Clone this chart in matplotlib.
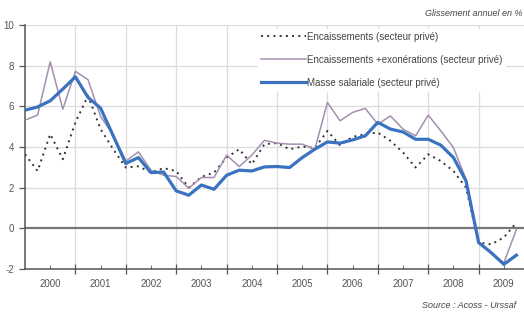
import numpy as np
import matplotlib
matplotlib.use("Agg")
import matplotlib.pyplot as plt

plt.rcParams['font.family'] = ['Liberation Sans', 'DejaVu Sans']

# Quarterly data, 2000Q1 .. 2009Q4 (year-on-year growth, %)
quarters = 2000 + np.arange(40) * 0.25
encaissements = [3.64, 2.82, 4.63, 3.40, 5.21, 6.52, 4.88, 3.89, 2.99, 3.05,
                 2.75, 2.96, 2.82, 2.00, 2.53, 2.74, 3.48, 3.89, 3.15, 4.14,
                 4.19, 3.89, 4.02, 3.95, 4.79, 4.09, 4.50, 4.63, 4.71, 4.30,
                 3.73, 2.99, 3.64, 3.31, 2.82, 2.00, -0.70, -0.79, -0.45, 0.28]
encaiss_exo = [5.32, 5.57, 8.19, 5.86, 7.72, 7.31, 5.50, 4.60, 3.31, 3.76,
               2.85, 2.61, 2.55, 1.97, 2.50, 2.50, 3.60, 3.04, 3.60, 4.33,
               4.19, 4.14, 4.14, 3.89, 6.19, 5.29, 5.70, 5.90, 5.12, 5.53,
               4.88, 4.55, 5.57, 4.79, 3.97, 2.41, -0.70, -1.20, -1.70, -0.05]
masse_salariale = [5.81, 5.97, 6.27, 6.85, 7.45, 6.44, 5.91, 4.55, 3.19, 3.48,
                   2.74, 2.77, 1.84, 1.63, 2.13, 1.92, 2.61, 2.86, 2.82, 3.02,
                   3.04, 2.99, 3.48, 3.89, 4.25, 4.19, 4.35, 4.55, 5.21, 4.88,
                   4.74, 4.38, 4.38, 4.09, 3.48, 2.33, -0.70, -1.20, -1.77, -1.32]
year_labels = ['2000', '2001', '2002', '2003', '2004', '2005', '2006', '2007', '2008', '2009']
y_ticks = [-2, 0, 2, 4, 6, 8, 10]

fig = plt.figure(figsize=(5.24, 3.12), dpi=100)
ax = fig.add_axes([25/524, 1-269/312, 1-25/524, (269-25)/312])

txt = '#555555'
ax.plot(quarters, encaissements, color='#333333', lw=1.4, ls=(0, (1, 2.2)),
        label='Encaissements (secteur privé)', zorder=3)
ax.plot(quarters, encaiss_exo, color='#a58fae', lw=1.1,
        label='Encaissements +exonérations (secteur privé)', zorder=3)
ax.plot(quarters, masse_salariale, color='#3a72c0', lw=2.3,
        label='Masse salariale (secteur privé)', zorder=4)

ax.set_xlim(2000, 2009.9)
ax.set_ylim(-2, 10)

ax.set_yticks(y_ticks)
ax.set_yticklabels([str(v) for v in y_ticks], fontsize=7, color=txt)
for v in y_ticks[2:]:
    ax.axhline(v, color='#dcdcdc', lw=0.9, zorder=1)
ax.axhline(0, color='#777777', lw=1.6, zorder=2)

years = np.arange(2001, 2010)
for yb in years:
    ax.axvline(yb, color='#dcdcdc', lw=0.9, zorder=1)

ax.set_xticks(years)
ax.set_xticklabels([])
ax.tick_params(axis='x', which='major', direction='inout', length=7, width=0.9, color='#555555')
mids = 2000.5 + np.arange(len(year_labels))
ax.set_xticks(mids, minor=True)
ax.set_xticklabels(year_labels, minor=True, fontsize=7, color=txt)
ax.tick_params(axis='x', which='minor', direction='in', length=3, width=0.8,
               color='#777777', pad=7)
ax.tick_params(axis='y', direction='out', length=4, width=0.9, color='#555555', pad=4)

for s in ['top', 'right']:
    ax.spines[s].set_visible(False)
for s in ['left', 'bottom']:
    ax.spines[s].set_color('#555555')
    ax.spines[s].set_linewidth(1.1)

leg = ax.legend(loc='upper left', bbox_to_anchor=(233/499, 0.985), frameon=True,
                fontsize=7, handlelength=4.6, handletextpad=0.1, labelspacing=1.35,
                borderaxespad=0, borderpad=0.3, fancybox=False)
leg.get_frame().set_facecolor('white')
leg.get_frame().set_edgecolor('white')
leg.get_frame().set_alpha(1)
leg.set_zorder(5)
for t in leg.get_texts():
    t.set_color('#444444')

fig.text(0.998, 1-14/312, 'Glissement annuel en %', ha='right', va='center',
         fontsize=6.5, style='italic', color='#444444')
fig.text(0.985, 1-306/312, 'Source : Acoss - Urssaf', ha='right', va='center',
         fontsize=6.5, style='italic', color='#444444')

fig.savefig('out.png', dpi=100)
